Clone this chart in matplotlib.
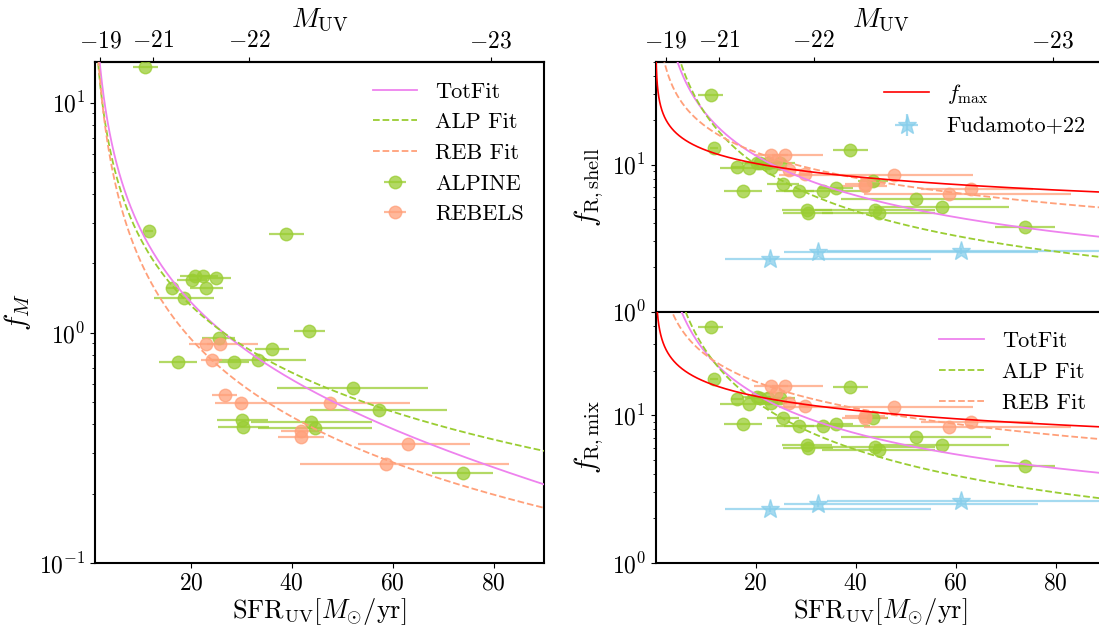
# Dust/obscuration fractions vs UV star formation rate (ALPINE + REBELS)

import numpy as np
import matplotlib
matplotlib.use("Agg")
import matplotlib.pyplot as plt

plt.rcParams['font.family'] = 'serif'
plt.rcParams['font.serif'] = ['cmr10', 'DejaVu Serif']
plt.rcParams['mathtext.fontset'] = 'cm'
plt.rcParams['axes.formatter.use_mathtext'] = True
plt.rcParams['axes.linewidth'] = 1.5

# colors
col_alp = 'yellowgreen'
col_reb = 'lightsalmon'
col_tot = 'violet'
col_fud = 'skyblue'
col_max = 'red'

# ALPINE galaxies: SFR_UV and x uncertainty
sfr_alp = [11.0, 11.7, 16.2, 17.4, 18.7, 20.3, 20.8, 22.4, 23.1, 24.9, 25.5, 28.6, 30.2, 30.4,
           33.4, 36.1, 38.9, 43.5, 43.9, 44.6, 52.1, 57.2, 73.9]
xerr_alp = [2.5, 0.8, 1.2, 3.8, 5.9, 3.0, 3.0, 3.0, 3.2, 3.0, 3.2, 3.0, 5.0, 5.0,
            9.4, 3.4, 3.5, 3.0, 12.0, 11.3, 15.0, 13.5, 6.0]
fm_alp = [14.3, 2.78, 1.57, 0.748, 1.42, 1.69, 1.77, 1.76, 1.57, 1.73, 0.95, 0.748, 0.420, 0.389,
          0.758, 0.852, 2.69, 1.02, 0.409, 0.386, 0.577, 0.464, 0.245]
fsh_alp = [29.5, 13.0, 9.63, 6.59, 9.42, 10.2, 10.3, 10.2, 9.48, 10.2, 7.43, 6.59, 4.9, 4.72,
           6.59, 6.98, 12.5, 7.7, 4.9, 4.7, 5.79, 5.16, 3.77]
fmix_alp = [39.6, 17.4, 12.8, 8.73, 11.9, 13.2, 13.0, 13.1, 12.1, 13.0, 9.59, 8.42, 6.26, 6.0,
            8.42, 8.77, 15.5, 9.59, 6.07, 5.85, 7.1, 6.32, 4.52]

# REBELS galaxies
sfr_reb = [23.1, 24.1, 25.8, 26.75, 29.9, 41.85, 41.85, 47.6, 58.6, 63.1]
xlo_reb = [3.4, 2.1, 2.5, 2.5, 1.0, 4.0, 4.5, 22.9, 17.0, 10.0]
xhi_reb = [3.4, 2.1, 7.6, 2.5, 1.0, 4.0, 4.5, 15.9, 24.4, 12.3]
fm_reb = [0.896, 0.758, 0.896, 0.539, 0.496, 0.374, 0.353, 0.496, 0.270, 0.329]
fsh_reb = [11.6, 10.5, 11.6, 9.15, 8.6, 7.4, 7.2, 8.46, 6.26, 6.87]
fmix_reb = [15.7, 14.2, 15.7, 12.1, 11.6, 9.8, 9.6, 11.3, 8.3, 9.0]

# Fudamoto+22
sfr_fud = [22.9, 32.5, 61.0]
xlo_fud = [9.1, 6.8, 26.7]
xhi_fud = [32.1, 44.0, 35.0]
fsh_fud = [2.28, 2.53, 2.58]
fmix_fud = [2.32, 2.52, 2.62]

# Fit coefficients, f = A * SFR^-b + C
fit_m = {'tot': (29.3, 1.0, -0.106), 'alp': (23.8, 0.967, 0.0), 'reb': (27.3, 1.124, 0.0)}
fit_sh = {'tot': (214.0, 1.0, 0.82), 'alp': (334.8, 1.2, 0.82), 'reb': (69.0, 0.58, 0.0),
          'max': (25.0, 0.30, 0.0)}
fit_mix = {'tot': (252.0, 1.0, 1.23), 'alp': (420.7, 1.2, 0.81), 'reb': (101.6, 0.6, 0.0),
           'max': (35.0, 0.32, 0.0)}

muv_ticks = [-19, -21, -22, -23]


def fit_curve(x, pars):
    A, b, C = pars
    return A * x**(-b) + C


def sfr2muv(s):
    return -2.5 * (np.log10(np.clip(s, 1e-3, None)) + 7.3)


def muv2sfr(m):
    return 10**(-0.4 * np.asarray(m) - 7.3)


def draw_points(ax, y_alp, y_reb):
    ax.errorbar(sfr_alp, y_alp, xerr=xerr_alp, fmt='o', color=col_alp, ms=9, elinewidth=1.6,
                alpha=0.75, label='ALPINE', zorder=3)
    ax.errorbar(sfr_reb, y_reb, xerr=[xlo_reb, xhi_reb], fmt='o', color=col_reb, ms=9,
                elinewidth=1.6, alpha=0.75, label='REBELS', zorder=3)


def draw_fits(ax, x, fits):
    ax.plot(x, fit_curve(x, fits['tot']), color=col_tot, lw=1.3, label='TotFit', zorder=4)
    ax.plot(x, fit_curve(x, fits['alp']), color=col_alp, lw=1.3, ls='--', label='ALP Fit', zorder=4)
    ax.plot(x, fit_curve(x, fits['reb']), color=col_reb, lw=1.3, ls='--', label='REB Fit', zorder=4)


def top_axis(ax):
    sec = ax.secondary_xaxis('top', functions=(sfr2muv, muv2sfr))
    sec.set_xticks(muv_ticks)
    sec.tick_params(labelsize=17)
    sec.set_xlabel(r'$M_{\rm UV}$', fontsize=20, labelpad=2)
    return sec


fig = plt.figure(figsize=(10.99, 6.28), dpi=100)
ax1 = fig.add_axes([0.0864, 0.1035, 0.4086, 0.7978])
ax2 = fig.add_axes([0.5966, 0.5037, 0.4095, 0.398])
ax3 = fig.add_axes([0.5966, 0.1035, 0.4095, 0.4002], sharex=ax2)

xl = np.linspace(1.0, 90, 2000)
xr = np.linspace(0.02, 90, 4000)

xlabel = r'$\mathrm{SFR_{UV}}[M_{\odot}/\mathrm{yr}]$'

# Left panel: f_M
draw_points(ax1, fm_alp, fm_reb)
draw_fits(ax1, xl, fit_m)
ax1.set_yscale('log')
ax1.set_xlim(1, 90)
ax1.set_ylim(0.1, 15)
ax1.set_xticks([20, 40, 60, 80])
ax1.set_ylabel(r'$f_M$', fontsize=21)
ax1.set_xlabel(xlabel, fontsize=19, labelpad=1)
top_axis(ax1)
ax1.legend(frameon=False, fontsize=16, loc='upper right')

# Right top: f_R,shell
draw_points(ax2, fsh_alp, fsh_reb)
draw_fits(ax2, xr, fit_sh)
l_max, = ax2.plot(xr, fit_curve(xr, fit_sh['max']), color=col_max, lw=1.2, label=r'$f_{\rm max}$', zorder=4)
fud = ax2.errorbar(sfr_fud, fsh_fud, xerr=[xlo_fud, xhi_fud], yerr=0.12, fmt='*', color=col_fud,
                   ms=14, elinewidth=1.6, alpha=0.75, label='Fudamoto+22', zorder=3)
ax2.set_yscale('log')
ax2.set_xlim(0, 90)
ax2.set_ylim(1, 50)
ax2.set_ylabel(r'$f_{\rm R,shell}$', fontsize=21)
ax2.tick_params(labelbottom=False)
top_axis(ax2)
ax2.legend(handles=[l_max, fud], frameon=False, fontsize=16, loc='upper right')

# Right bottom: f_R,mix
draw_points(ax3, fmix_alp, fmix_reb)
draw_fits(ax3, xr, fit_mix)
ax3.plot(xr, fit_curve(xr, fit_mix['max']), color=col_max, lw=1.2, zorder=4)
ax3.errorbar(sfr_fud, fmix_fud, xerr=[xlo_fud, xhi_fud], yerr=0.12, fmt='*', color=col_fud,
             ms=14, elinewidth=1.6, alpha=0.75, zorder=3)
ax3.set_yscale('log')
ax3.set_ylim(1, 50)
ax3.set_xticks([20, 40, 60, 80])
ax3.set_ylabel(r'$f_{\rm R,mix}$', fontsize=21)
ax3.set_xlabel(xlabel, fontsize=19, labelpad=1)
h3, lab3 = ax3.get_legend_handles_labels()
ax3.legend(handles=[h for h, l in zip(h3, lab3) if 'Fit' in l], frameon=False, fontsize=16,
           loc='upper right')

for ax in (ax1, ax2, ax3):
    ax.tick_params(labelsize=17)

fig.savefig('out.png', dpi=100)
